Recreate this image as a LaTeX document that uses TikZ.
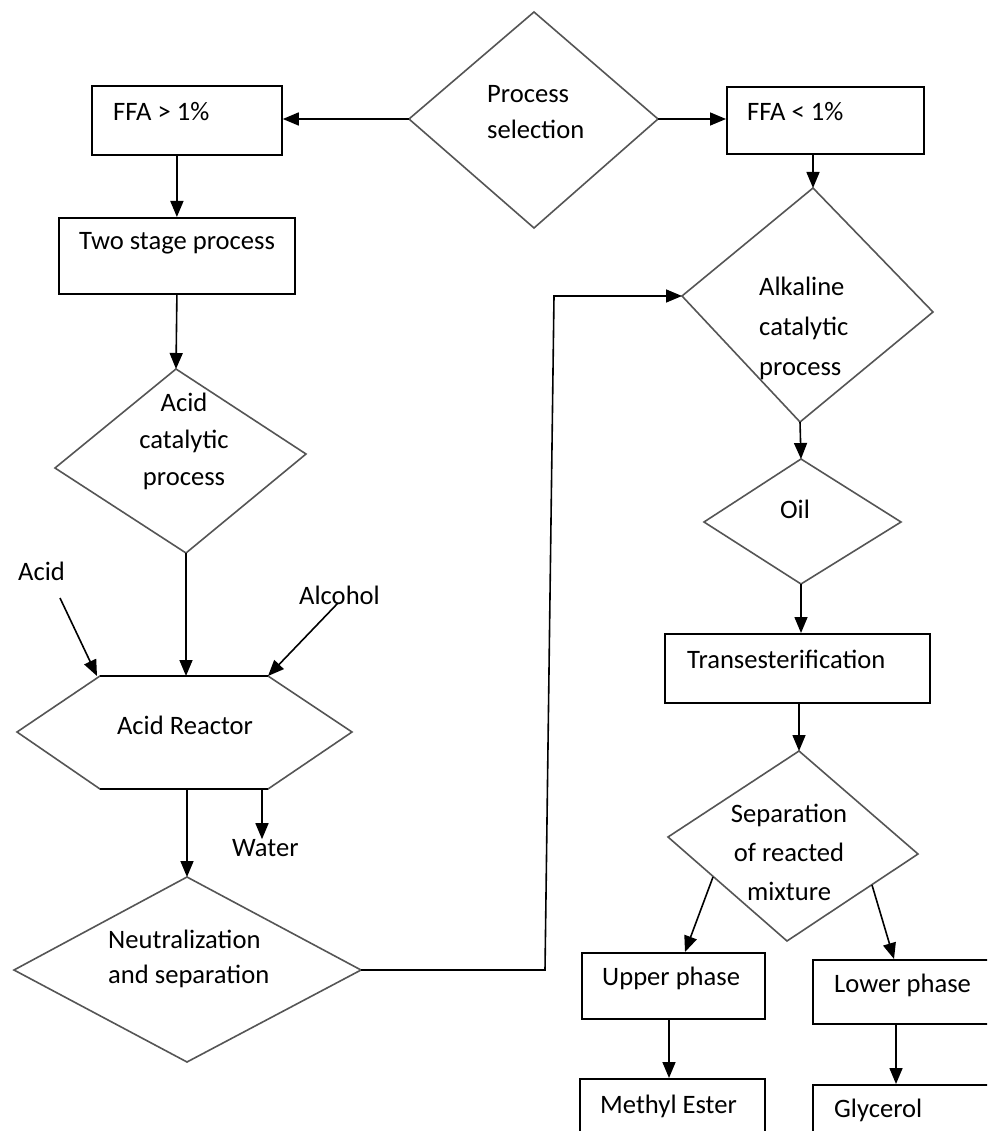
\documentclass[tikz,border=0pt]{standalone}
\usepackage{fontspec}
\setmainfont{Carlito}
\usetikzlibrary{arrows.meta}
\definecolor{dgray}{RGB}{85,85,85}
\begin{document}
\begin{tikzpicture}[x=1pt,y=-1pt,
  box/.style={draw=black, line width=1.8pt, inner sep=0pt, anchor=north west},
  dia/.style={draw=dgray, line width=1.6pt, line join=miter},
  tip/.style={-{Triangle[length=16pt,width=13pt]}},
  conn/.style={draw=black, line width=1.6pt, tip},
  plain/.style={draw=black, line width=1.6pt},
  txt/.style={font=\fontsize{26.6}{32}\selectfont, inner sep=0pt, text=black}]
\useasboundingbox (0,0) rectangle (987,1131);
\clip (0,0) rectangle (987,1131);
\fill[white] (0,0) rectangle (987,1131);

% ---------- boxes ----------
\node[box, minimum width=190pt, minimum height=69pt] (ffa1) at (91,85) {};
\node[box, minimum width=197pt, minimum height=67pt] (ffa2) at (726,86) {};
\node[box, minimum width=236pt, minimum height=76pt] (two) at (58,217) {};
\node[box, minimum width=265pt, minimum height=69pt] (tr) at (664,633) {};
\node[box, minimum width=183pt, minimum height=66pt] (up) at (581,952) {};
\node[box, minimum width=200pt, minimum height=64pt] (lo) at (812,959) {};
\node[box, minimum width=185pt, minimum height=70pt] (me) at (579,1078) {};
\node[box, minimum width=200pt, minimum height=70pt] (gl) at (812,1084) {};

% ---------- diamond / hexagon vertices ----------
\coordinate (ps-t) at (534,12);  \coordinate (ps-r) at (658,119);
\coordinate (ps-b) at (534,228); \coordinate (ps-l) at (409,119);
\coordinate (ac-t) at (176,369); \coordinate (ac-r) at (306,454);
\coordinate (ac-b) at (186,553); \coordinate (ac-l) at (55,468);
\coordinate (hx-tl) at (100,676); \coordinate (hx-tr) at (268,676);
\coordinate (hx-r) at (352,732);  \coordinate (hx-br) at (268,789);
\coordinate (hx-bl) at (100,789); \coordinate (hx-l) at (17,732);
\coordinate (nt-t) at (187,877); \coordinate (nt-r) at (361,970);
\coordinate (nt-b) at (187,1062); \coordinate (nt-l) at (14,970);
\coordinate (al-t) at (813,188); \coordinate (al-r) at (933,312);
\coordinate (al-b) at (800,422); \coordinate (al-l) at (682,296);
\coordinate (oil-t) at (801,459); \coordinate (oil-r) at (901,522);
\coordinate (oil-b) at (801,584); \coordinate (oil-l) at (704,522);
\coordinate (sep-t) at (799,751); \coordinate (sep-r) at (918,854);
\coordinate (sep-b) at (787,941); \coordinate (sep-l) at (668,837);

\draw[dia] (ps-t) -- (ps-r) -- (ps-b) -- (ps-l) -- cycle;
\draw[dia] (ac-t) -- (ac-r) -- (ac-b) -- (ac-l) -- cycle;
\draw[dia] (hx-tl) -- (hx-tr) -- (hx-r) -- (hx-br) -- (hx-bl) -- (hx-l) -- cycle;
\draw[plain] (hx-tl) -- (hx-tr);
\draw[plain] (hx-bl) -- (hx-br);
\draw[dia] (nt-t) -- (nt-r) -- (nt-b) -- (nt-l) -- cycle;
\draw[dia] (al-t) -- (al-r) -- (al-b) -- (al-l) -- cycle;
\draw[dia] (oil-t) -- (oil-r) -- (oil-b) -- (oil-l) -- cycle;
\draw[dia] (sep-t) -- (sep-r) -- (sep-b) -- (sep-l) -- cycle;

% ---------- texts ----------
\node[txt, anchor=west] (t-ffa1) at (113,112) {FFA > 1\%};
\node[txt, anchor=west, align=left, font=\fontsize{26.6}{36}\selectfont] (t-ps) at (487,112) {Process\\selection};
\node[txt, anchor=west] (t-ffa2) at (747,112) {FFA < 1\%};
\node[txt, anchor=west] (t-two) at (79,243) {Two stage process};
\node[txt, align=center, font=\fontsize{26.6}{37}\selectfont] (t-ac) at (184,441) {Acid\\catalytic\\process};
\node[txt, anchor=west] (acid) at (18,571) {Acid};
\node[txt, anchor=west] (alc) at (299,595) {Alcohol};
\node[txt] (t-hx) at (185,725) {Acid Reactor};
\node[txt, anchor=west] (water) at (232,848) {Water};
\node[txt, anchor=west, align=left, font=\fontsize{26.6}{35}\selectfont] (t-nt) at (108,959) {Neutralization\\and separation};
\node[txt, anchor=west, align=left, font=\fontsize{26.6}{40}\selectfont] (t-al) at (759,328) {Alkaline\\catalytic\\process};
\node[txt] (t-oil) at (795,509) {Oil};
\node[txt, anchor=west] (t-tr) at (687,659) {Transesterification};
\node[txt, align=center, font=\fontsize{26.6}{39}\selectfont] (t-sep) at (789,852) {Separation\\of reacted\\mixture};
\node[txt, anchor=west] (t-up) at (602,978) {Upper phase};
\node[txt, anchor=west] (t-lo) at (834,985) {Lower phase};
\node[txt, anchor=west] (t-me) at (600,1106) {Methyl Ester};
\node[txt, anchor=west] (t-gl) at (834,1110) {Glycerol};

% ---------- connector helper points ----------
\coordinate (acid-s) at (60,598);
\coordinate (alc-s) at (338,603);
\coordinate (hx-o1) at (187,789);
\coordinate (hx-o2) at (262,789);
\coordinate (j1) at (545,970);
\coordinate (j2) at (554,296);
\coordinate (s1) at (713,877);
\coordinate (s2) at (872,885);
\coordinate (up-in) at (685,952);
\coordinate (lo-in) at (894,959);

% ---------- connectors ----------
\draw[conn] (ps-l) -- (ffa1.east |- ps-l);
\draw[conn] (ps-r) -- (ffa2.west |- ps-r);
\draw[conn] (ffa1.south -| two.north) -- (two.north);
\draw[conn] (two.south) -- (ac-t);
\draw[conn] (ac-b) -- (ac-b |- hx-tl);
\draw[conn] (acid-s) -- (97,676);
\draw[conn] (alc-s) -- (hx-tr);
\draw[conn] (hx-o1) -- (nt-t);
\draw[conn] (hx-o2) -- (hx-o2 |- water.north);
\draw[conn] (nt-r) -- (j1) -- (j2) -- (al-l);
\draw[conn] (ffa2.south -| al-t) -- (al-t);
\draw[conn] (al-b) -- (oil-t);
\draw[conn] (oil-b) -- (oil-b |- tr.north);
\draw[conn] (tr.south -| sep-t) -- (sep-t);
\draw[conn] (s1) -- (up-in);
\draw[conn] (s2) -- (lo-in);
\draw[conn] (up.south -| 669,0) -- (me.north -| 669,0);
\draw[conn] (lo.south -| 896,0) -- (gl.north -| 896,0);
\end{tikzpicture}
\end{document}
